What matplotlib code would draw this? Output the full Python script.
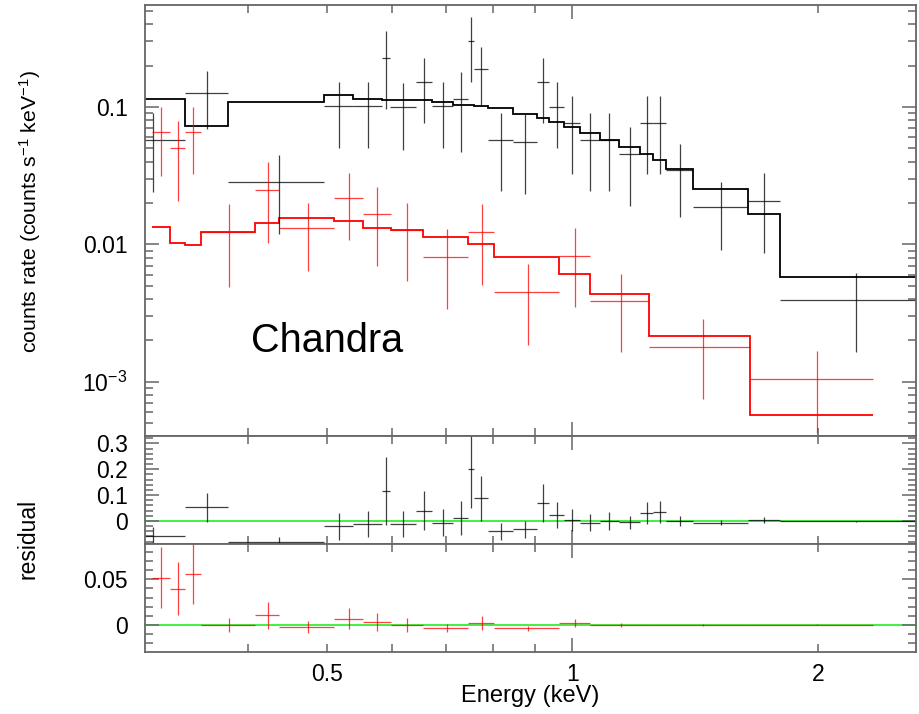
import numpy as np
import matplotlib
matplotlib.use("Agg")
import matplotlib.pyplot as plt

plt.rcParams['font.family'] = ['Liberation Sans', 'DejaVu Sans']
plt.rcParams['mathtext.fontset'] = 'custom'
plt.rcParams['mathtext.rm'] = 'Liberation Sans'
plt.rcParams['mathtext.it'] = 'Liberation Sans:italic'

# --- black spectrum (bin edges in keV, rate in counts/s/keV) ---
black_edges = [0.2764, 0.3349, 0.3785, 0.4959, 0.5387, 0.5836, 0.5975, 0.6430, 0.6721,
               0.7145, 0.7454, 0.7565, 0.7888, 0.8466, 0.9045, 0.9355, 0.9776, 1.022,
               1.081, 1.140, 1.211, 1.257, 1.302, 1.405, 1.641, 1.798, 2.658]
black_rate = [0.0575, 0.1258, 0.0284, 0.1017, 0.1017, 0.2286, 0.0995, 0.152, 0.1017,
              0.1138, 0.304, 0.189, 0.0575, 0.0559, 0.152, 0.1005, 0.0761, 0.0575,
              0.0575, 0.0455, 0.0761, 0.0761, 0.0348, 0.0188, 0.0207, 0.00394]
black_err = [0.0334, 0.0565, 0.0166, 0.0513, 0.0513, 0.1316, 0.0509, 0.0751, 0.0513,
             0.0665, 0.152, 0.0858, 0.0331, 0.0328, 0.0751, 0.0503, 0.0435, 0.0331,
             0.0331, 0.0264, 0.0435, 0.0435, 0.0189, 0.0097, 0.0121, 0.00229]
black_model = [0.1149, 0.0731, 0.1087, 0.1223, 0.1143, 0.1125, 0.1125, 0.1125, 0.1082,
               0.1034, 0.1034, 0.1017, 0.0978, 0.0885, 0.0827, 0.0774, 0.0719, 0.0643,
               0.0575, 0.0509, 0.0452, 0.0411, 0.0354, 0.0252, 0.0166, 0.00576]

# --- red spectrum ---
red_edges = [0.3048, 0.3207, 0.3349, 0.3500, 0.4082, 0.4371, 0.5106, 0.5533, 0.5986,
             0.6565, 0.7454, 0.8021, 0.9640, 1.0513, 1.2430, 1.652, 2.340]
red_rate = [0.0654, 0.050, 0.066, 0.01224, 0.02486, 0.0132, 0.02185, 0.01662, 0.0127,
            0.00814, 0.01238, 0.00452, 0.00827, 0.00387, 0.0018, 0.001046]
red_err = [0.0338, 0.0293, 0.0333, 0.00732, 0.01458, 0.00676, 0.0111, 0.00964, 0.00732,
           0.00478, 0.00732, 0.00268, 0.00479, 0.00223, 0.00105, 0.00062]
red_model = [0.01343, 0.01017, 0.00996, 0.01224, 0.01437, 0.01563, 0.01479, 0.0132, 0.0127,
             0.01136, 0.0100, 0.00814, 0.00608, 0.00435, 0.00215, 0.000572]


def bins(edges):
    e = np.array(edges)
    return 0.5 * (e[:-1] + e[1:]), 0.5 * (e[1:] - e[:-1])


bx, bw = bins(black_edges)
rx, rw = bins(red_edges)
# residual = data - model
black_res = np.array(black_rate) - np.array(black_model)
red_res = np.array(red_rate) - np.array(red_model)

FRAME = '#666666'
fig = plt.figure(figsize=(9.2, 7.14), dpi=100)
L, W = 145 / 920, 771 / 920
ax1 = fig.add_axes([L, 1 - 436 / 714, W, 431 / 714])
ax2 = fig.add_axes([L, 1 - 543.5 / 714, W, 107.5 / 714])
ax3 = fig.add_axes([L, 1 - 651.5 / 714, W, 108 / 714])

# top: spectra with folded model
ax1.errorbar(bx, black_rate, xerr=bw, yerr=black_err, fmt='none', ecolor='black', elinewidth=0.9, alpha=0.75)
ax1.stairs(black_model, black_edges, baseline=None, color='black', lw=1.3)
ax1.errorbar(rx, red_rate, xerr=rw, yerr=red_err, fmt='none', ecolor='red', elinewidth=0.9, alpha=0.75)
ax1.stairs(red_model, red_edges, baseline=None, color='red', lw=1.3)
ax1.set_yscale('log')
ax1.set_ylim(4.02e-4, 0.553)
ax1.set_yticks([1e-3, 1e-2, 1e-1], [r'$10^{-3}$', '0.01', '0.1'])
ax1.yaxis.set_minor_formatter(matplotlib.ticker.NullFormatter())
ax1.text(0.138, 0.194, 'Chandra', transform=ax1.transAxes, fontsize=28.5, va='baseline')

# middle: black residuals
ax2.axhline(0, color='#22ee22', lw=1.2, zorder=1)
ax2.errorbar(bx, black_res, xerr=bw, yerr=black_err, fmt='none', ecolor='black', elinewidth=0.9, alpha=0.75)
ax2.set_ylim(-0.0872, 0.329)
ax2.set_yticks([0, 0.1, 0.2, 0.3], ['0', '0.1', '0.2', '0.3'])
ax2.set_yticks(np.arange(-0.08, 0.33, 0.02), minor=True)

# bottom: red residuals
ax3.axhline(0, color='#22ee22', lw=1.2, zorder=1)
ax3.errorbar(rx, red_res, xerr=rw, yerr=red_err, fmt='none', ecolor='red', elinewidth=0.9, alpha=0.75)
ax3.set_ylim(-0.029, 0.0892)
ax3.set_yticks([0, 0.05], ['0', '0.05'])
ax3.set_yticks(np.arange(-0.02, 0.09, 0.01), minor=True)

for ax in (ax1, ax2, ax3):
    ax.set_xscale('log')
    ax.set_xlim(0.299, 2.64)
    ax.set_xticks([1], ['1'])
    ax.set_xticks([0.4, 0.5, 0.6, 0.7, 0.8, 0.9, 2], ['', '0.5', '', '', '', '', '2'], minor=True)
    ax.tick_params(which='both', direction='in', top=True, right=True, color=FRAME,
                   width=1.1, labelsize=16.5, pad=12.5)
    ax.tick_params(which='major', length=10)
    ax.tick_params(which='minor', length=5.5)
    ax.tick_params(axis='x', which='both', pad=8)
    for s in ax.spines.values():
        s.set_color(FRAME)
        s.set_linewidth(1.3)
    if ax is not ax3:
        ax.tick_params(axis='x', which='both', labelbottom=False)

fig.text(530.5 / 920, 1 - 702 / 714, 'Energy (keV)', fontsize=17, ha='center', va='baseline')
fig.text(30 / 920, 1 - 211.5 / 714, r'counts rate (counts s$^{-1}$ keV$^{-1}$)', fontsize=15.3,
         rotation=90, ha='center', va='center')
fig.text(28 / 920, 1 - 539 / 714, 'residual', fontsize=16.5, rotation=90, ha='center', va='center')

fig.savefig('out.png', dpi=100)
